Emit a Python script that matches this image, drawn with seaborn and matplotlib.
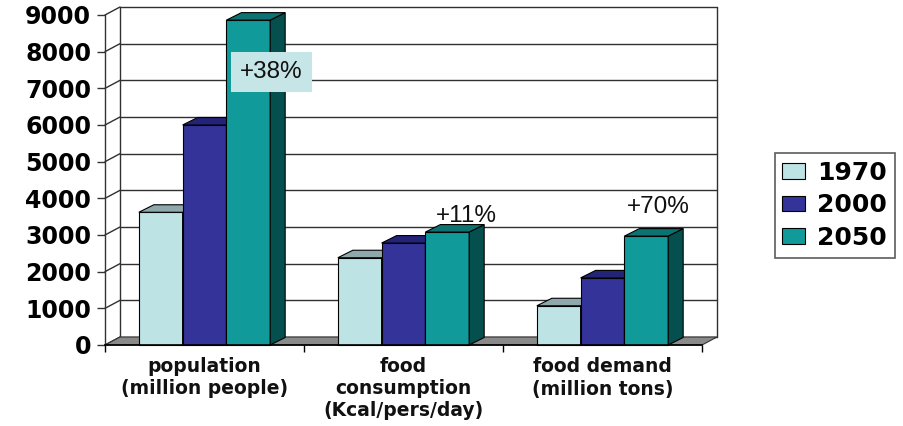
import numpy as np
import pandas as pd
import matplotlib
matplotlib.use("Agg")
import matplotlib.pyplot as plt
import seaborn as sns
from matplotlib.patches import Polygon, Patch

# ---------------- data ----------------
categories = ["population\n(million people)",
              "food\nconsumption\n(Kcal/pers/day)",
              "food demand\n(million tons)"]
years = ["1970", "2000", "2050"]
v1970 = [3620, 2380, 1070]
v2000 = [6000, 2780, 1830]
v2050 = [8860, 3080, 2970]
growth_labels = ["+38%", "+11%", "+70%"]
yticks = [0, 1000, 2000, 3000, 4000, 5000, 6000, 7000, 8000, 9000]

front_colors = ["#BDE3E4", "#333399", "#109A9A"]
top_colors = ["#8FA8AB", "#232378", "#0C7272"]
side_colors = ["#7E9EA1", "#1A1A5E", "#064F4F"]

df = pd.DataFrame({
    "category": categories * 3,
    "year": np.repeat(years, len(categories)),
    "value": v1970 + v2000 + v2050,
})

sns.set_theme(style="white")
plt.rcParams["font.family"] = ["DejaVu Sans"]
plt.rcParams["text.color"] = "black"
plt.rcParams["xtick.labelcolor"] = "black"
plt.rcParams["ytick.labelcolor"] = "black"

FW, FH = 904, 426
fig = plt.figure(figsize=(FW / 100, FH / 100), dpi=100)
ax = fig.add_axes([105 / FW, 81 / FH, 597 / FW, 330 / FH])

sns.barplot(data=df, x="category", y="value", hue="year", palette=front_colors,
            width=0.66, edgecolor="black", linewidth=0.8, saturation=1,
            ax=ax, legend=False)

ax.set_xlim(-0.5, 2.5)
ax.set_ylim(0, 9000)
ax.set_xlabel("")
ax.set_ylabel("")

# pixel -> data conversion for the 3D depth offsets
W_px = 597.0
H_px = 330.0
dx = 15 * 3.0 / W_px
dy = 8 * 9000.0 / H_px
bdx = 15 * 3.0 / W_px
bdy = 7.5 * 9000.0 / H_px

gcol = "#303030"
# back wall gridlines and left-wall diagonals
for v in yticks:
    ax.plot([-0.5 + dx, 2.5 + dx], [v + dy, v + dy], color=gcol, lw=1.0,
            clip_on=False, zorder=1)
    ax.plot([-0.5, -0.5 + dx], [v, v + dy], color=gcol, lw=1.0,
            clip_on=False, zorder=1)
for xe in (-0.5 + dx, 2.5 + dx):
    ax.plot([xe, xe], [dy, 9000 + dy], color=gcol, lw=1.0, clip_on=False, zorder=1)

# floor
floor = Polygon([(-0.5, 0), (2.5, 0), (2.5 + dx, dy), (-0.5 + dx, dy)],
                closed=True, fc="#8A8A8A", ec="#333333", lw=0.8,
                zorder=2, clip_on=False)
ax.add_patch(floor)

# 3D bars
bars = []
for hi, cont in enumerate(ax.containers):
    for bar in cont:
        bars.append((bar, hi))
bars.sort(key=lambda t: t[0].get_x())
for i, (bar, hi) in enumerate(bars):
    x0 = bar.get_x()
    w = bar.get_width()
    h = bar.get_height()
    bar.set_zorder(10 + i)
    bar.set_clip_on(False)
    side = Polygon([(x0 + w, 0), (x0 + w, h), (x0 + w + bdx, h + bdy), (x0 + w + bdx, bdy)],
                   closed=True, fc=side_colors[hi], ec="black", lw=0.8,
                   zorder=10 + i + 0.5, clip_on=False)
    top = Polygon([(x0, h), (x0 + w, h), (x0 + w + bdx, h + bdy), (x0 + bdx, h + bdy)],
                  closed=True, fc=top_colors[hi], ec="black", lw=0.8,
                  zorder=10 + i + 0.5, clip_on=False)
    ax.add_patch(side)
    ax.add_patch(top)

# axes / spines
for s in ("top", "right"):
    ax.spines[s].set_visible(False)
ax.spines["left"].set_color("#333333")
ax.spines["left"].set_linewidth(1.0)
ax.spines["bottom"].set_color("black")
ax.spines["bottom"].set_linewidth(1.2)
ax.spines["bottom"].set_zorder(40)

ax.set_yticks(yticks)
ax.set_yticklabels([str(v) for v in yticks], fontsize=17, fontweight="bold",
                   color="black")
ax.tick_params(axis="y", left=True, length=6, width=1, color="#333333", pad=4)

ax.set_xticks([0, 1, 2])
ax.set_xticklabels(categories, fontsize=13.5, fontweight="bold", color="#111111",
                   linespacing=1.2)
ax.tick_params(axis="x", which="major", bottom=True, length=0, pad=9)
ax.set_xticks([-0.5, 0.5, 1.5, 2.5], minor=True)
ax.tick_params(axis="x", which="minor", bottom=True, length=5, width=1, color="black")

# growth annotations
ax.text(0.335, 7440, growth_labels[0], fontsize=17.5, family="Liberation Sans",
        ha="center", va="center", color="#111111",
        bbox=dict(boxstyle="square,pad=0.38", fc="#C6E5E6", ec="none"),
        zorder=60, clip_on=False)
ax.text(1.314, 3530, growth_labels[1], fontsize=17.5, family="Liberation Sans",
        ha="center", va="center", color="#111111", zorder=60, clip_on=False)
ax.text(2.28, 3770, growth_labels[2], fontsize=17.5, family="Liberation Sans",
        ha="center", va="center", color="#111111", zorder=60, clip_on=False)

# legend
handles = [Patch(fc=c, ec="black", lw=0.8) for c in front_colors]
leg = fig.legend(handles, years, loc="upper left",
                 bbox_to_anchor=(775 / FW, 1 - 153 / FH), frameon=True,
                 fancybox=False, edgecolor="#333333",
                 prop=dict(weight="bold", size=18), handlelength=0.9,
                 handleheight=0.6, labelspacing=0.35, borderpad=0.3,
                 handletextpad=0.5, borderaxespad=0)
leg.get_frame().set_linewidth(1.2)
for t in leg.get_texts():
    t.set_color("black")

fig.savefig("out.png", dpi=100)
